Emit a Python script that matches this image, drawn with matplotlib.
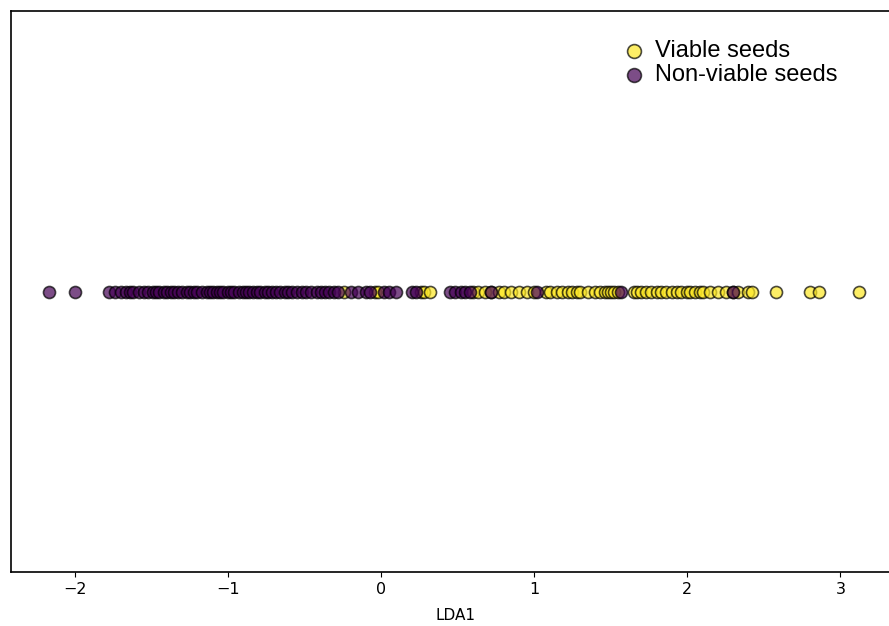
import numpy as np
import matplotlib.pyplot as plt

# LDA1 scores
viable = [-0.24, -0.04, -0.02, 0.26, 0.28, 0.32, 0.60, 0.63, 0.68, 0.72,
          0.77, 0.80, 0.85, 0.90, 0.95, 1.00, 1.08, 1.10, 1.15, 1.18,
          1.22, 1.25, 1.28, 1.30, 1.35, 1.40, 1.43, 1.46, 1.48, 1.50,
          1.52, 1.55, 1.65, 1.67, 1.70, 1.73, 1.76, 1.80, 1.83, 1.86,
          1.90, 1.93, 1.96, 2.00, 2.02, 2.05, 2.08, 2.10, 2.15, 2.20,
          2.25, 2.30, 2.33, 2.40, 2.42, 2.58, 2.80, 2.86, 3.12]

non_viable = [-2.17, -2.00, -1.78, -1.74, -1.70, -1.67, -1.64, -1.62, -1.58,
              -1.55, -1.52, -1.49, -1.47, -1.45, -1.42, -1.40, -1.37, -1.35,
              -1.33, -1.30, -1.27, -1.25, -1.22, -1.20, -1.17, -1.14, -1.12,
              -1.10, -1.07, -1.05, -1.03, -1.00, -0.98, -0.96, -0.93, -0.90,
              -0.88, -0.86, -0.84, -0.81, -0.79, -0.76, -0.74, -0.71, -0.69,
              -0.66, -0.63, -0.61, -0.58, -0.55, -0.52, -0.49, -0.46, -0.42,
              -0.39, -0.37, -0.34, -0.31, -0.28, -0.20, -0.15, -0.10, -0.07,
              0.02, 0.05, 0.10, 0.20, 0.23, 0.45, 0.48, 0.52, 0.55, 0.58,
              0.72, 1.02, 1.57, 2.30]

groups = ["Viable seeds", "Non-viable seeds"]
colors = ["#fde725", "#440154"]

fig = plt.figure(figsize=(8.89, 6.26), dpi=100)
# right edge of the axes sits just past the image border (cropped in the original)
ax = fig.add_axes([0.0124, 0.0863, 1.0, 0.896])

for vals, label, c in zip([viable, non_viable], groups, colors):
    ax.scatter(vals, np.zeros(len(vals)), s=75, c=c, alpha=0.7,
               edgecolors="black", linewidths=1.2, label=label)

ax.set_xlim(-2.418, 3.39)
ax.set_ylim(-1, 1)
ax.set_yticks([])
ax.set_xlabel("LDA1", fontsize=11, labelpad=8)
ax.tick_params(axis="x", labelsize=11.5)
for sp in ax.spines.values():
    sp.set_linewidth(1.2)

fig.legend(loc="upper left", bbox_to_anchor=(622 / 889, 1 - 40 / 626),
           bbox_transform=fig.transFigure, frameon=False,
           prop={"family": "Liberation Sans", "size": 17},
           handlelength=1.0, handletextpad=0.4, labelspacing=0.1,
           borderpad=0, borderaxespad=0, markerscale=1.15)

fig.savefig("out.png", dpi=100)
